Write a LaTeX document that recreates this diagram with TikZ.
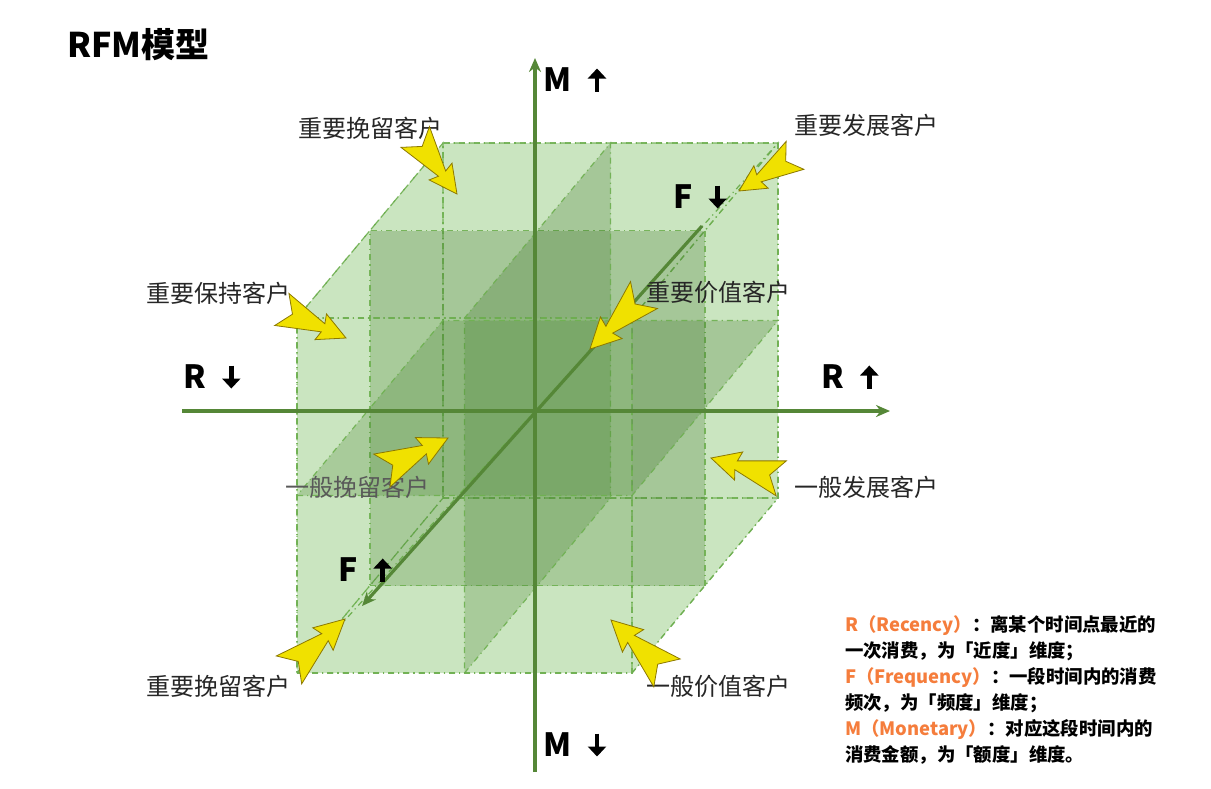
\documentclass[tikz,border=0pt]{standalone}
\usepackage{fontspec}
\setmainfont{Noto Sans CJK SC}
\usetikzlibrary{calc,arrows.meta}
\definecolor{axisg}{RGB}{85,135,55}
\definecolor{faceg}{RGB}{110,185,80}
\definecolor{midg}{RGB}{55,110,35}
\definecolor{edgeg}{RGB}{110,175,80}
\definecolor{yel}{RGB}{240,225,0}
\definecolor{yelb}{RGB}{140,120,0}
\definecolor{leg}{RGB}{245,125,60}
\tikzset{
 face/.style={fill=faceg,fill opacity=0.2,draw=edgeg,draw opacity=0.9,line width=0.6pt,dash dot},
 midface/.style={fill=midg,fill opacity=0.25,draw=edgeg,draw opacity=0.9,line width=0.6pt,dash dot},
 axis/.style={draw=axisg,line width=1.6pt,-{Stealth[length=7pt,width=6pt]}},
 lab/.style={font=\fontsize{12}{14}\selectfont,text=black!85},
 axl/.style={font=\bfseries\fontsize{16}{18}\selectfont},
 yarr/.style={fill=yel,draw=yelb,line width=0.4pt},
 legt/.style={font=\bfseries\fontsize{9.2}{13}\selectfont,anchor=north west,align=left}
}
\newcommand{\upar}{\tikz[baseline=0pt]\draw[line width=2.4pt,-{Triangle[length=5pt,width=9pt]}] (0,0)--(0,11.5pt);}
\newcommand{\dnar}{\tikz[baseline=0pt]\draw[line width=2.4pt,-{Triangle[length=5pt,width=9pt]}] (0,11.5pt)--(0,0);}
\newcommand{\yarrow}[2]{%
 \filldraw[yarr] let \p1=($(#1)-(#2)$), \n1={atan2(\y1,\x1)}, \n2={veclen(\x1,\y1)} in
 (#2) -- ($(#2)+(\n1+27:0.45*\n2)$) -- ($(#2)+(\n1+10:0.37*\n2)$) -- ($(#2)+(\n1+14:1.05*\n2)$)
 -- ($(#2)+(\n1:0.85*\n2)$) -- ($(#2)+(\n1-14:1.05*\n2)$) -- ($(#2)+(\n1-10:0.37*\n2)$)
 -- ($(#2)+(\n1-27:0.45*\n2)$) -- cycle;}
\begin{document}
\begin{tikzpicture}[x=0.5pt,y=-0.5pt]
\useasboundingbox (0,0) rectangle (1211,788);
\fill[white] (0,0) rectangle (1211,788);
\begin{scope}[shift={(297,673)},x={(167.5pt,0pt)},y={(0pt,177.5pt)},z={(73pt,87.5pt)}]
 \path[face] (0,0,1)--(1,0,1)--(1,1,1)--(0,1,1)--cycle;
 \path[face] (0,0,0)--(0,0,1)--(0,1,1)--(0,1,0)--cycle;
 \path[face] (1,0,0)--(1,0,1)--(1,1,1)--(1,1,0)--cycle;
 \path[face] (0,0,0)--(1,0,0)--(1,0,1)--(0,0,1)--cycle;
 \path[face] (0,1,0)--(1,1,0)--(1,1,1)--(0,1,1)--cycle;
 \path[midface] (0,0,0.5)--(1,0,0.5)--(1,1,0.5)--(0,1,0.5)--cycle;
 \path[midface] (0.5,0,0)--(0.5,0,1)--(0.5,1,1)--(0.5,1,0)--cycle;
 \path[midface] (0,0.5,0)--(1,0.5,0)--(1,0.5,1)--(0,0.5,1)--cycle;
 \path[face] (0,0,0)--(1,0,0)--(1,1,0)--(0,1,0)--cycle;
 \coordinate (d0) at (0,0,0); \coordinate (d1) at (1,1,1);
\end{scope}
\draw[edgeg,line width=0.6pt,dash dot] (d0) -- (d1);
\coordinate (rl) at (182,411); \coordinate (rr) at (890,411);
\coordinate (mb) at (535,772); \coordinate (mt) at (535,58);
\coordinate (ft) at (702,226); \coordinate (fb) at (362,606);
\draw[axis] (rl) -- (rr);
\draw[axis] (mb) -- (mt);
\draw[axis] (ft) -- (fb);
\node[axl] (m1) at (575,80) {M\enspace\upar};
\node[axl] (m2) at (575,745) {M\enspace\dnar};
\node[axl] (r1) at (212,377) {R\enspace\dnar};
\node[axl] (r2) at (850,377) {R\enspace\upar};
\node[axl] (f1) at (700,197) {F\enspace\dnar};
\node[axl] (f2) at (365,570) {F\enspace\upar};
\node[font=\bfseries\fontsize{17}{19}\selectfont,anchor=west] (title) at (60,45) {RFM模型};
\node[lab] (a1) at (370,128) {重要挽留客户};
\node[lab] (a2) at (866,125) {重要发展客户};
\node[lab] (a3) at (218,293) {重要保持客户};
\node[lab] (a4) at (718,292) {重要价值客户};
\node[lab,text=black!65] (a5) at (357,487) {一般挽留客户};
\node[lab] (a6) at (866,487) {一般发展客户};
\node[lab] (a7) at (218,686) {重要挽留客户};
\node[lab] (a8) at (718,686) {一般价值客户};
\coordinate (t1) at (416,138); \coordinate (h1) at (457,194);
\coordinate (t2) at (794,156); \coordinate (h2) at (739,191);
\coordinate (t3) at (283,310); \coordinate (h3) at (346,338);
\coordinate (t4) at (643,296); \coordinate (h4) at (590,349);
\coordinate (t5) at (383,470); \coordinate (h5) at (448,438);
\coordinate (t6) at (780,478); \coordinate (h6) at (711,458);
\coordinate (t7) at (290,669); \coordinate (h7) at (345,619);
\coordinate (t8) at (666,672); \coordinate (h8) at (611,620);
\foreach \i in {1,...,8}{\yarrow{t\i}{h\i}}
\node[legt] (legend) at (838,608) {%
{\color{leg}R（Recency）}：离某个时间点最近的\\
一次消费，为「近度」维度；\\
{\color{leg}F（Frequency）}：一段时间内的消费\\
频次，为「频度」维度；\\
{\color{leg}M（Monetary）}：对应这段时间内的\\
消费金额，为「额度」维度。};
\end{tikzpicture}
\end{document}
